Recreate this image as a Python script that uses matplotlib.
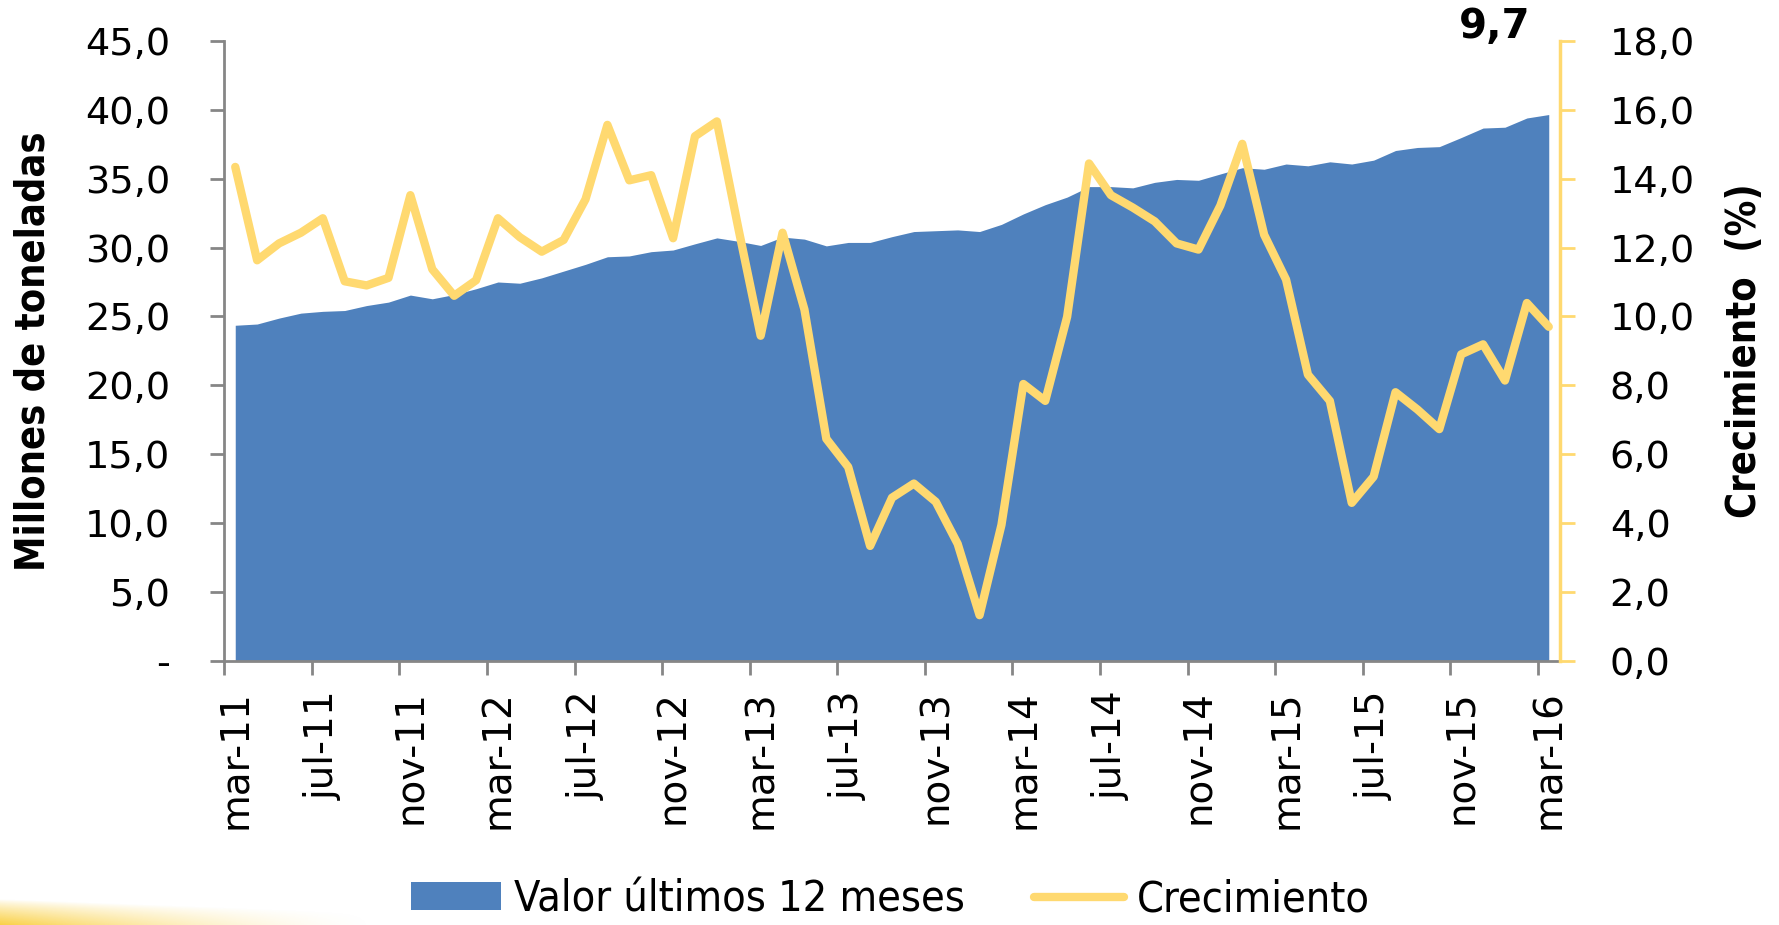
import os
import glob
import numpy as np
import matplotlib
matplotlib.use("Agg")
import matplotlib.pyplot as plt
from matplotlib import font_manager as fm
from matplotlib.patches import Patch
from matplotlib.lines import Line2D
from matplotlib.ticker import FixedLocator, FuncFormatter

# ---------------- data ----------------
valor = [24.36, 24.45, 24.88, 25.24, 25.37, 25.43, 25.79, 26.04, 26.55, 26.28,
         26.59, 27.01, 27.50, 27.41, 27.80, 28.29, 28.78, 29.33, 29.39, 29.70,
         29.82, 30.27, 30.70, 30.45, 30.15, 30.76, 30.61, 30.12, 30.37, 30.37,
         30.79, 31.16, 31.22, 31.28, 31.16, 31.68, 32.44, 33.11, 33.66, 34.42,
         34.42, 34.33, 34.73, 34.94, 34.88, 35.34, 35.79, 35.68, 36.06, 35.93,
         36.22, 36.06, 36.34, 37.04, 37.26, 37.32, 37.98, 38.67, 38.73, 39.40,
         39.65]
crecimiento = [14.34, 11.63, 12.12, 12.43, 12.85, 11.02, 10.90, 11.12, 13.52, 11.37,
               10.60, 11.05, 12.85, 12.30, 11.88, 12.22, 13.40, 15.56, 13.95, 14.10,
               12.27, 15.23, 15.66, 12.50, 9.44, 12.43, 10.20, 6.45, 5.63, 3.34,
               4.74, 5.15, 4.62, 3.40, 1.33, 3.95, 8.04, 7.55, 9.99, 14.44,
               13.52, 13.16, 12.76, 12.12, 11.94, 13.22, 15.01, 12.37, 11.07, 8.31,
               7.55, 4.59, 5.35, 7.80, 7.30, 6.73, 8.90, 9.19, 8.14, 10.39,
               9.70]
tick_labels = ['mar-11', 'jul-11', 'nov-11', 'mar-12', 'jul-12', 'nov-12',
               'mar-13', 'jul-13', 'nov-13', 'mar-14', 'jul-14', 'nov-14',
               'mar-15', 'jul-15', 'nov-15', 'mar-16']
ultimo_label = '9,7'
serie_area = 'Valor últimos 12 meses'
serie_linea = 'Crecimiento'
ylabel_left = 'Millones de toneladas'
ylabel_right = 'Crecimiento  (%)'

# ---------------- fonts ----------------
def find_font(basename):
    for f in fm.fontManager.ttflist:
        if os.path.basename(f.fname) == basename:
            return f.fname
    hits = glob.glob('/usr/share/fonts/**/' + basename, recursive=True)
    return hits[0] if hits else None

cb = find_font('DejaVuSansCondensed-Bold.ttf')
cr = find_font('DejaVuSansCondensed.ttf')
if cb:
    fp_lab = fm.FontProperties(fname=cb, size=28.5)
else:
    fp_lab = fm.FontProperties(family='DejaVu Sans', weight='bold', size=25.5)
if cr:
    fp_leg = fm.FontProperties(fname=cr, size=31)
else:
    fp_leg = fm.FontProperties(family='DejaVu Sans', size=28)

BLUE = '#4F81BD'
GOLD = '#FFD970'
GRAY = '#868686'

fig = plt.figure(figsize=(17.79, 9.25), dpi=100)

# decorative glow bottom-left
gax = fig.add_axes([0, 0, 380 / 1779, 26 / 925], zorder=-5)
gx, gy = np.meshgrid(np.linspace(0, 1, 300), np.linspace(0, 1, 40))
top = 1.0 - 0.55 * gx
alpha = np.clip(1 - gx, 0, 1) ** 1.6 * np.clip(1 - gy / top, 0, 1) ** 0.8
img = np.zeros(gx.shape + (4,))
img[..., 0] = 0.98
img[..., 1] = 0.80
img[..., 2] = 0.20
img[..., 3] = alpha * 0.9
gax.imshow(img, origin='lower', aspect='auto', extent=(0, 1, 0, 1))
gax.set_axis_off()

ax = fig.add_axes([224.3 / 1779, 1 - 661 / 925, (1559.7 - 224.3) / 1779, 620.2 / 925])
x = np.arange(len(valor))
ax.fill_between(x, 0, valor, color=BLUE, linewidth=0, zorder=2)
ax.set_xlim(-0.5, len(valor) - 0.5)
ax.set_ylim(0, 45)
ax.set_yticks(np.arange(0, 46, 5))
ax.yaxis.set_major_formatter(FuncFormatter(
    lambda v, p: '-' if abs(v) < 1e-9 else f'{v:.1f}'.replace('.', ',')))
ax.xaxis.set_major_locator(FixedLocator(np.arange(0, len(valor), 4)))
ax.set_xticklabels(tick_labels, rotation=90, fontsize=28, va='top', ha='center')
ax.xaxis.set_minor_locator(FixedLocator(np.arange(-0.5, len(valor) - 1, 4)))
ax.tick_params(axis='x', which='major', length=0, pad=21)
ax.tick_params(axis='x', which='minor', length=10, width=2, color=GRAY, direction='out')
ax.tick_params(axis='y', length=10, width=2, color=GRAY, direction='out', labelsize=27.5, pad=29)
for s in ['top', 'right']:
    ax.spines[s].set_visible(False)
for s in ['left', 'bottom']:
    ax.spines[s].set_color(GRAY)
    ax.spines[s].set_linewidth(2)
ax.set_ylabel(ylabel_left, fontproperties=fp_lab)
ax.yaxis.set_label_coords((34 - 224.3) / 1335.4, 0.5)
ax.yaxis.label.set_va('center')

ax2 = ax.twinx()
ax2.plot(x, crecimiento, color=GOLD, linewidth=6, solid_joinstyle='round',
         solid_capstyle='round', zorder=3)
ax2.set_ylim(0, 18)
ax2.set_yticks(np.arange(0, 19, 2))
ax2.yaxis.set_major_formatter(FuncFormatter(lambda v, p: f'{v:.1f}'.replace('.', ',')))
ax2.tick_params(axis='y', length=11, width=2, color=GOLD, direction='out', labelsize=27.5, pad=25)
for s in ['top', 'left', 'bottom']:
    ax2.spines[s].set_visible(False)
ax2.spines['right'].set_color(GOLD)
ax2.spines['right'].set_linewidth(2.5)
ax2.set_ylabel(ylabel_right, fontproperties=fp_lab, rotation=90)
ax2.yaxis.set_label_coords((1745 - 224.3) / 1335.4, 0.5)
ax2.yaxis.label.set_va('center')

ax2.text((1495 - 224.3) / 1335.4, (661 - 27) / 620.2, ultimo_label, transform=ax2.transAxes,
         ha='center', va='center', fontsize=29, fontweight='bold', fontfamily='DejaVu Sans')

handles = [Patch(facecolor=BLUE, edgecolor='none'),
           Line2D([0], [0], color=GOLD, linewidth=6, solid_capstyle='round')]
fig.legend(handles, [serie_area, serie_linea], loc='center', bbox_to_anchor=(0.5005, 0.028),
           ncol=2, frameon=False, prop=fp_leg, handlelength=2.1, handleheight=0.6,
           handletextpad=0.3, columnspacing=1.6, borderaxespad=0, borderpad=0)

fig.savefig('out.png', dpi=100)
